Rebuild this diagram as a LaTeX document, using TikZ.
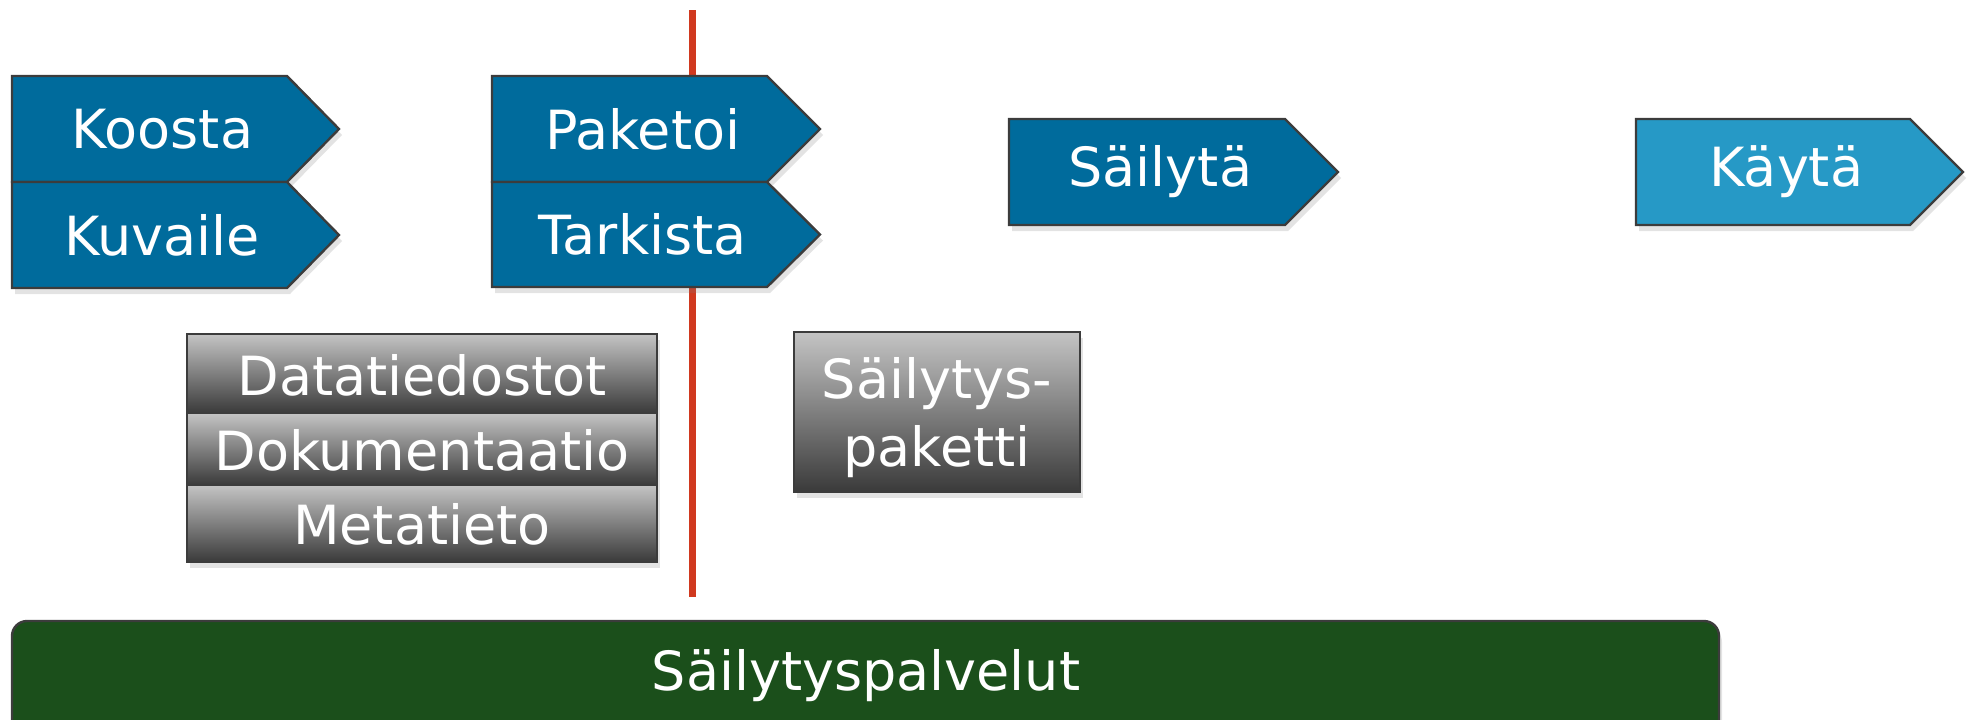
\documentclass[tikz,border=0pt]{standalone}
\usepackage{fontspec}
\setmainfont{DejaVu Sans}
\usetikzlibrary{shadows}
\definecolor{bluedark}{HTML}{006B9C}
\definecolor{bluelight}{HTML}{2699C6}
\definecolor{greenbar}{HTML}{1B4F1B}
\definecolor{redline}{HTML}{D0391F}
\definecolor{edgegray}{HTML}{3C3C3C}
\definecolor{graytop}{HTML}{C4C4C4}
\definecolor{graybot}{HTML}{3A3A3A}
\tikzset{
  shp/.style={draw=edgegray, line width=1.2pt, line join=miter,
    drop shadow={opacity=0.22, shadow xshift=1.5pt, shadow yshift=-3pt}},
  lbl/.style={text=white, font=\fontsize{27}{34}\selectfont, inner sep=0pt, align=center},
  graybox/.style={shp, top color=graytop, bottom color=graybot},
}
\newcommand{\pentbox}[8]{%
  \path[shp, fill=#6] (#1,#4) -- (#2,#4) -- ({#3},{(#4+#5)/2}) -- (#2,#5) -- (#1,#5) -- cycle;
  \node[lbl] (#8) at ({(#1+(#2+#3)/2)/2},{(#4+#5)/2}) {#7};%
}
\begin{document}
\begin{tikzpicture}[x=0.5pt,y=-0.5pt]
\useasboundingbox (0,0) rectangle (1968,719);
\clip (0,0) rectangle (1968,719);
% red divider
\coordinate (rtop) at (692,10);
\coordinate (rbot) at (692,597);
\draw[redline, line width=3.5pt] (rtop) -- (rbot);
% chevrons
\pentbox{12}{287}{339}{76}{182}{bluedark}{Koosta}{koosta}
\pentbox{12}{287}{339}{182}{288}{bluedark}{Kuvaile}{kuvaile}
\pentbox{492}{767}{820}{76}{182}{bluedark}{Paketoi}{paketoi}
\pentbox{492}{767}{820}{182}{287}{bluedark}{Tarkista}{tarkista}
\pentbox{1009}{1285}{1338}{119}{225}{bluedark}{Säilytä}{sailyta}
\pentbox{1636}{1910}{1963}{119}{225}{bluelight}{Käytä}{kayta}
% gray stack
\path[graybox] (187,334) rectangle (657,413);
\node[lbl] (data) at (422,375) {Datatiedostot};
\path[graybox] (187,413) rectangle (657,485);
\node[lbl] (doku) at (422,450) {Dokumentaatio};
\path[graybox] (187,485) rectangle (657,562);
\node[lbl] (meta) at (422,524) {Metatieto};
% package
\path[graybox] (794,332) rectangle (1080,492);
\node[lbl] (paketti) at (937,418) {Säilytys-\\paketti};
% services bar
\path[shp, fill=greenbar, rounded corners=7.5pt] (12,621) rectangle (1719,760);
\node[lbl] (palvelut) at (866,676) {Säilytyspalvelut};
\end{tikzpicture}
\end{document}
